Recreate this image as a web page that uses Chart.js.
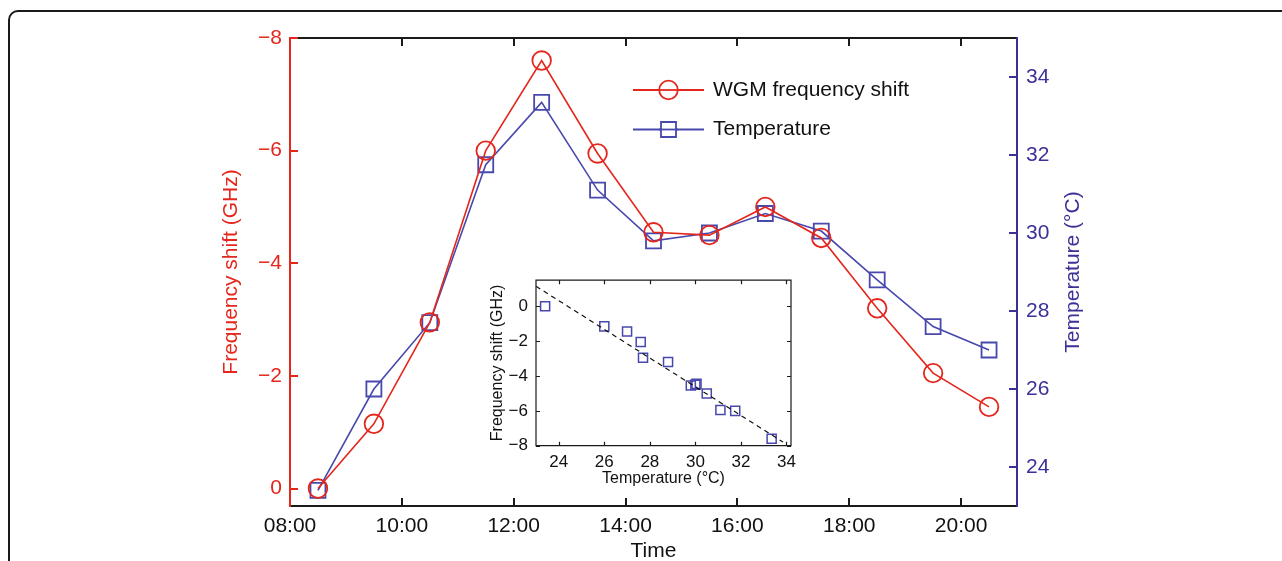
<!DOCTYPE html>
<html>
<head>
<meta charset="utf-8">
<script src="https://cdn.jsdelivr.net/npm/chart.js@4.4.1/dist/chart.umd.min.js"></script>
<style>
  html, body { margin: 0; padding: 0; background: #fff; overflow: hidden; }
  #wrap { position: relative; width: 1282px; height: 561px; }
  #frame { position: absolute; left: 8px; top: 10px; width: 1400px; height: 700px;
           border: 2px solid #1a1a1a; border-radius: 10px; }
  #mainChart { position: absolute; left: 0; top: 0; }
  #insetChart { position: absolute; left: 470px; top: 262px; }
</style>
</head>
<body>
<div id="wrap">
  <div id="frame"></div>
  <canvas id="mainChart" width="1282" height="561"></canvas>
  <canvas id="insetChart" width="340" height="236"></canvas>
</div>
<script>
// sample times in hours (08:30 ... 20:30)
const sampleTimes = [8.5, 9.5, 10.5, 11.5, 12.5, 13.5, 14.5, 15.5, 16.5, 17.5, 18.5, 19.5, 20.5];
// WGM frequency shift, GHz
const freqShift = [0, -1.15, -2.95, -6.0, -7.6, -5.95, -4.55, -4.5, -5.0, -4.45, -3.2, -2.05, -1.45];
// temperature, °C
const tempC = [23.4, 26.0, 27.7, 31.75, 33.35, 31.1, 29.8, 30.0, 30.5, 30.05, 28.8, 27.6, 27.0];

const timeTicks = [8, 10, 12, 14, 16, 18, 20];
const timeTickLabels = ['08:00', '10:00', '12:00', '14:00', '16:00', '18:00', '20:00'];
const freqTicks = [-8, -6, -4, -2, 0];
const freqTickLabels = ['\u22128', '\u22126', '\u22124', '\u22122', '0'];
const tempTicks = [24, 26, 28, 30, 32, 34];
const tempTickLabels = ['24', '26', '28', '30', '32', '34'];

// inset
const insetTempTicks = [24, 26, 28, 30, 32, 34];
const insetTempLabels = ['24', '26', '28', '30', '32', '34'];
const insetFreqTicks = [-8, -6, -4, -2, 0];
const insetFreqLabels = ['\u22128', '\u22126', '\u22124', '\u22122', '0'];
// dashed linear fit
const fitTemp = [23, 33.85];
const fitShift = [1.15, -7.79];

const RED = '#e4261c';
const BLUE = '#4848ad';
const BLUE_AXIS = '#3b3198';
const FONT = '"Liberation Sans", Arial, Helvetica, sans-serif';

Chart.defaults.font.family = FONT;
Chart.defaults.color = '#111';

const setTicks = (vals) => (s) => { s.ticks = vals.map(v => ({ value: v })); };

const mainDecor = {
  id: 'mainDecor',
  afterDatasetsDraw(chart) {
    const { ctx, chartArea: a, scales } = chart;
    ctx.save();
    ctx.lineWidth = 2;
    ctx.strokeStyle = '#1a1a1a';
    ctx.beginPath();
    ctx.moveTo(a.left, a.top); ctx.lineTo(a.right, a.top);
    ctx.moveTo(a.left, a.bottom); ctx.lineTo(a.right, a.bottom);
    scales.x.ticks.forEach(t => {
      const px = Math.round(scales.x.getPixelForValue(t.value));
      ctx.moveTo(px, a.bottom); ctx.lineTo(px, a.bottom - 8);
      ctx.moveTo(px, a.top); ctx.lineTo(px, a.top + 8);
    });
    ctx.stroke();

    ctx.strokeStyle = RED;
    ctx.beginPath();
    ctx.moveTo(a.left, a.top - 1); ctx.lineTo(a.left, a.bottom + 1);
    scales.y.ticks.forEach(t => {
      const py = Math.round(scales.y.getPixelForValue(t.value));
      ctx.moveTo(a.left, py); ctx.lineTo(a.left + 8, py);
    });
    ctx.stroke();

    ctx.strokeStyle = BLUE_AXIS;
    ctx.beginPath();
    ctx.moveTo(a.right, a.top - 1); ctx.lineTo(a.right, a.bottom + 1);
    scales.y2.ticks.forEach(t => {
      const py = Math.round(scales.y2.getPixelForValue(t.value));
      ctx.moveTo(a.right, py); ctx.lineTo(a.right - 8, py);
    });
    ctx.stroke();

    // axis titles
    ctx.font = '21px ' + FONT;
    ctx.textAlign = 'center';
    ctx.textBaseline = 'middle';
    ctx.fillStyle = '#111';
    ctx.fillText('Time', (a.left + a.right) / 2, 551);

    const midY = (a.top + a.bottom) / 2;
    ctx.save();
    ctx.translate(231, midY);
    ctx.rotate(-Math.PI / 2);
    ctx.fillStyle = RED;
    ctx.fillText('Frequency shift (GHz)', 0, 0);
    ctx.restore();

    ctx.save();
    ctx.translate(1073, midY);
    ctx.rotate(-Math.PI / 2);
    ctx.fillStyle = BLUE_AXIS;
    ctx.fillText('Temperature (\u00B0C)', 0, 0);
    ctx.restore();

    // legend
    const items = [
      { label: 'WGM frequency shift', color: RED, style: 'circle', y: 90 },
      { label: 'Temperature', color: BLUE, style: 'square', y: 129.5 }
    ];
    items.forEach(it => {
      ctx.strokeStyle = it.color;
      ctx.lineWidth = 1.8;
      ctx.beginPath();
      ctx.moveTo(633, it.y); ctx.lineTo(704, it.y);
      ctx.stroke();
      ctx.beginPath();
      if (it.style === 'circle') ctx.arc(668.5, it.y, 9.3, 0, Math.PI * 2);
      else ctx.rect(661, it.y - 7.5, 15, 15);
      ctx.fillStyle = '#fff';
      ctx.fill();
      ctx.stroke();
      ctx.beginPath();
      ctx.moveTo(659, it.y); ctx.lineTo(678, it.y);
      ctx.stroke();
      ctx.fillStyle = '#111';
      ctx.textAlign = 'left';
      ctx.fillText(it.label, 713, it.y);
    });
    ctx.restore();
  }
};

new Chart(document.getElementById('mainChart'), {
  type: 'line',
  data: {
    datasets: [
      {
        label: 'WGM frequency shift',
        data: sampleTimes.map((t, i) => ({ x: t, y: freqShift[i] })),
        yAxisID: 'y',
        borderColor: RED,
        borderWidth: 1.6,
        pointStyle: 'circle',
        pointRadius: 9.3,
        pointBorderWidth: 1.8,
        pointBorderColor: RED,
        pointBackgroundColor: 'rgba(0,0,0,0)',
        tension: 0,
        clip: false
      },
      {
        label: 'Temperature',
        data: sampleTimes.map((t, i) => ({ x: t, y: tempC[i] })),
        yAxisID: 'y2',
        borderColor: BLUE,
        borderWidth: 1.6,
        pointStyle: 'rect',
        pointRadius: 10.6,
        pointBorderWidth: 1.8,
        pointBorderColor: BLUE,
        pointBackgroundColor: 'rgba(0,0,0,0)',
        tension: 0,
        clip: false
      }
    ]
  },
  options: {
    responsive: false,
    animation: false,
    layout: { padding: { top: 38, left: 0, right: 0, bottom: 0 } },
    plugins: { legend: { display: false }, tooltip: { enabled: false } },
    scales: {
      x: {
        type: 'linear', position: 'bottom', min: 8, max: 21,
        grid: { display: false, drawTicks: false }, border: { display: false },
        afterBuildTicks: setTicks(timeTicks),
        afterFit: s => { s.height = 55; },
        ticks: { padding: 8, maxRotation: 0, autoSkip: false, color: '#111', font: { size: 21 },
                 callback: (v, i) => timeTickLabels[i] }
      },
      y: {
        type: 'linear', position: 'left', reverse: true, min: -8, max: 0.31,
        grid: { display: false, drawTicks: false }, border: { display: false },
        afterBuildTicks: setTicks(freqTicks),
        afterFit: s => { s.width = 290; },
        ticks: { padding: 8, color: RED, font: { size: 21 }, callback: (v, i) => freqTickLabels[i] }
      },
      y2: {
        type: 'linear', position: 'right', min: 23, max: 35,
        grid: { display: false, drawTicks: false }, border: { display: false },
        afterBuildTicks: setTicks(tempTicks),
        afterFit: s => { s.width = 265; },
        ticks: { padding: 9, color: BLUE_AXIS, font: { size: 21 }, callback: (v, i) => tempTickLabels[i] }
      }
    }
  },
  plugins: [mainDecor]
});

const insetDecor = {
  id: 'insetDecor',
  afterDatasetsDraw(chart) {
    const { ctx, chartArea: a, scales } = chart;
    ctx.save();
    ctx.strokeStyle = '#1a1a1a';
    ctx.lineWidth = 1.2;
    ctx.beginPath();
    ctx.rect(a.left, a.top, a.right - a.left, a.bottom - a.top);
    scales.x.ticks.forEach(t => {
      const px = Math.round(scales.x.getPixelForValue(t.value)) + 0.5;
      ctx.moveTo(px, a.bottom); ctx.lineTo(px, a.bottom - 4);
      ctx.moveTo(px, a.top); ctx.lineTo(px, a.top + 4);
    });
    scales.y.ticks.forEach(t => {
      const py = Math.round(scales.y.getPixelForValue(t.value)) + 0.5;
      ctx.moveTo(a.left, py); ctx.lineTo(a.left + 4, py);
      ctx.moveTo(a.right, py); ctx.lineTo(a.right - 4, py);
    });
    ctx.stroke();

    ctx.font = '16px ' + FONT;
    ctx.fillStyle = '#111';
    ctx.textAlign = 'center';
    ctx.textBaseline = 'middle';
    ctx.fillText('Temperature (\u00B0C)', (a.left + a.right) / 2, 217);
    ctx.save();
    ctx.translate(28, (a.top + a.bottom) / 2);
    ctx.rotate(-Math.PI / 2);
    ctx.fillText('Frequency shift (GHz)', 0, 0);
    ctx.restore();
    ctx.restore();
  }
};

new Chart(document.getElementById('insetChart'), {
  type: 'scatter',
  data: {
    datasets: [
      {
        type: 'line',
        data: fitTemp.map((t, i) => ({ x: t, y: fitShift[i] })),
        borderColor: '#111',
        borderWidth: 1.2,
        borderDash: [5, 4],
        pointRadius: 0,
        clip: false
      },
      {
        data: tempC.map((t, i) => ({ x: t, y: freqShift[i] })),
        pointStyle: 'rect',
        pointRadius: 6.4,
        pointBorderWidth: 1.5,
        borderColor: BLUE,
        backgroundColor: 'rgba(0,0,0,0)',
        clip: false
      }
    ]
  },
  options: {
    responsive: false,
    animation: false,
    layout: { padding: { top: 13, right: 19, left: 0, bottom: 0 } },
    plugins: { legend: { display: false }, tooltip: { enabled: false } },
    scales: {
      x: {
        type: 'linear', min: 23, max: 34.2,
        grid: { display: false, drawTicks: false }, border: { display: false },
        afterBuildTicks: setTicks(insetTempTicks),
        afterFit: s => { s.height = 52.3; },
        ticks: { padding: 6, maxRotation: 0, autoSkip: false, color: '#111', font: { size: 17 },
                 callback: (v, i) => insetTempLabels[i] }
      },
      y: {
        type: 'linear', min: -8, max: 1.5,
        grid: { display: false, drawTicks: false }, border: { display: false },
        afterBuildTicks: setTicks(insetFreqTicks),
        afterFit: s => { s.width = 66; },
        ticks: { padding: 8, color: '#111', font: { size: 17 }, callback: (v, i) => insetFreqLabels[i] }
      }
    }
  },
  plugins: [insetDecor]
});
</script>
</body>
</html>
